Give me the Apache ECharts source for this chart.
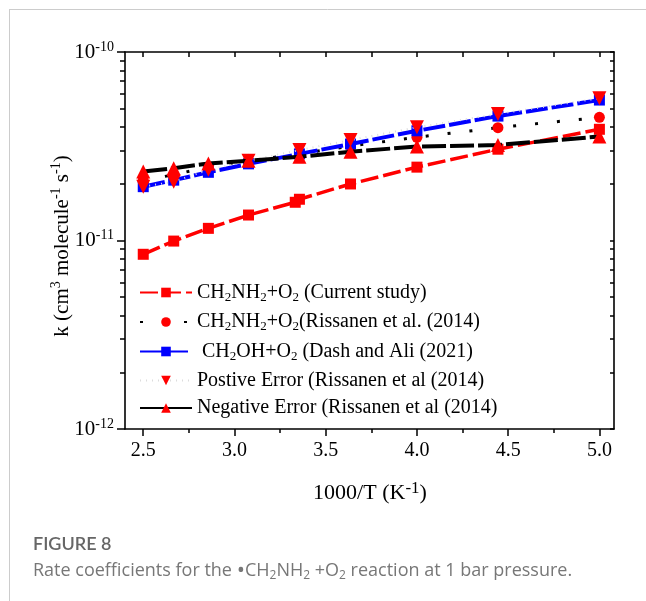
<!DOCTYPE html>
<html>
<head>
<meta charset="utf-8">
<script src="https://cdn.jsdelivr.net/npm/echarts@6/dist/echarts.min.js"></script>
<style>html,body{margin:0;padding:0;background:#fff;}#c{width:646px;height:601px;}</style>
</head>
<body>
<div id="c"></div>
<script>
// ---- data (1000/T in K^-1, k in cm^3 molecule^-1 s^-1) ----
const xCurrent = [2.5, 2.667, 2.857, 3.077, 3.333, 3.356, 3.636, 4.0, 4.444, 5.0];
const kCurrent = [8.45e-12, 9.93e-12, 1.16e-11, 1.365e-11, 1.595e-11, 1.655e-11, 1.995e-11, 2.45e-11, 3.05e-11, 3.89e-11];
const xOther = [2.5, 2.667, 2.857, 3.077, 3.356, 3.636, 4.0, 4.444, 5.0];
const kRissanen = [2.09e-11, 2.23e-11, 2.46e-11, 2.65e-11, 2.88e-11, 3.17e-11, 3.53e-11, 3.97e-11, 4.50e-11];
const kDash = [1.93e-11, 2.09e-11, 2.30e-11, 2.55e-11, 2.88e-11, 3.25e-11, 3.82e-11, 4.57e-11, 5.56e-11];
const kPosErr = [1.93e-11, 2.05e-11, 2.37e-11, 2.65e-11, 3.02e-11, 3.41e-11, 3.99e-11, 4.69e-11, 5.68e-11];
const kNegErr = [2.32e-11, 2.42e-11, 2.56e-11, 2.65e-11, 2.78e-11, 2.96e-11, 3.15e-11, 3.21e-11, 3.56e-11];

const seriesNames = ['current', 'rissanen', 'dash', 'pos', 'neg'];
const legendLabels = [
  '{t|CH}{s|2}{t|NH}{s|2}{t|+O}{s|2}{t| (Current study)}',
  '{t|CH}{s|2}{t|NH}{s|2}{t|+O}{s|2}{t|(Rissanen et al. (2014)}',
  '{t| CH}{s|2}{t|OH+O}{s|2}{t| (Dash and Ali (2021)}',
  '{t|Postive Error (Rissanen et al (2014)}',
  '{t|Negative Error (Rissanen et al (2014)}'
];
const xMajorTicks = [2.5, 3.0, 3.5, 4.0, 4.5, 5.0];
const xMinorTicks = [2.75, 3.25, 3.75, 4.25, 4.75];
const yDecades = [-12, -11, -10];
const yMinorMult = [2, 3, 4, 5, 6, 7, 8, 9];

const SERIF = '"Liberation Serif", "Times New Roman", serif';
const SANS = 'Lato, "Open Sans", "Noto Sans", sans-serif';
const SANS2 = '"Open Sans", Lato, "Noto Sans", sans-serif';

function pairs(xs, ys) { return xs.map((x, i) => [x, ys[i]]); }

const yMinorLog = [];
for (let d = -12; d < -10; d++) yMinorMult.forEach(m => yMinorLog.push(d + Math.log10(m)));
const yAllLog = yDecades.concat(yMinorLog);

const chart = echarts.init(document.getElementById('c'), null, {renderer: 'canvas'});
const gridRect = {left: 125, right: 32, top: 52, bottom: 172};
const X_MIN = 2.4, X_MAX = 5.08;

const option = {
  backgroundColor: '#fff',
  animation: false,
  grid: [Object.assign({}, gridRect), Object.assign({}, gridRect)],
  legend: {
    orient: 'vertical',
    left: 134,
    top: 277,
    itemWidth: 52,
    itemHeight: 12,
    itemGap: 7.5,
    data: seriesNames,
    formatter: name => legendLabels[seriesNames.indexOf(name)],
    textStyle: {
      fontFamily: SERIF,
      rich: {
        t: {fontSize: 20, fontFamily: SERIF, color: '#000', lineHeight: 23},
        s: {fontSize: 13, fontFamily: SERIF, color: '#000', verticalAlign: 'bottom', lineHeight: 13, padding: [9, 0, 0, 0]}
      }
    }
  },
  xAxis: [
    { // main bottom
      type: 'value', gridIndex: 0, position: 'bottom', min: X_MIN, max: X_MAX,
      axisLine: {show: true, lineStyle: {color: '#000', width: 1.6}},
      axisTick: {show: true, customValues: xMajorTicks, inside: false, length: 7, lineStyle: {color: '#000', width: 1.5}},
      axisLabel: {show: true, customValues: xMajorTicks, formatter: v => v.toFixed(1), margin: 12,
        fontFamily: SERIF, fontSize: 20, color: '#000'},
      splitLine: {show: false}
    },
    { // top frame
      type: 'value', gridIndex: 0, position: 'top', min: X_MIN, max: X_MAX,
      axisLine: {show: true, lineStyle: {color: '#000', width: 1.6}},
      axisTick: {show: true, customValues: xMajorTicks.concat(xMinorTicks), inside: true, length: 5, lineStyle: {color: '#000', width: 1.5}},
      axisLabel: {show: false},
      splitLine: {show: false}
    },
    { // minor bottom ticks
      type: 'value', gridIndex: 1, position: 'bottom', min: X_MIN, max: X_MAX,
      axisLine: {show: false},
      axisTick: {show: true, customValues: xMinorTicks, inside: false, length: 4, lineStyle: {color: '#000', width: 1.5}},
      axisLabel: {show: false},
      splitLine: {show: false}
    }
  ],
  yAxis: [
    { // main log axis
      type: 'log', logBase: 10, gridIndex: 0, position: 'left', min: 1e-12, max: 1e-10,
      axisLine: {show: true, lineStyle: {color: '#000', width: 1.6}},
      axisTick: {show: true, inside: false, length: 8, lineStyle: {color: '#000', width: 1.5}},
      axisLabel: {show: true, margin: 11,
        formatter: v => '{b|10}{s|' + Math.round(Math.log10(v)) + '}',
        rich: {
          b: {fontSize: 21, fontFamily: SERIF, color: '#000', lineHeight: 24},
          s: {fontSize: 14, fontFamily: SERIF, color: '#000', verticalAlign: 'top', lineHeight: 14, padding: [0, 0, 8, 0]}
        }},
      splitLine: {show: false}
    },
    { // right frame
      type: 'value', gridIndex: 0, position: 'right', min: -12, max: -10,
      axisLine: {show: true, lineStyle: {color: '#000', width: 1.6}},
      axisTick: {show: true, customValues: yAllLog, inside: true, length: 4, lineStyle: {color: '#000', width: 1.5}},
      axisLabel: {show: false},
      splitLine: {show: false}
    },
    { // minor left ticks
      type: 'value', gridIndex: 1, position: 'left', min: -12, max: -10,
      axisLine: {show: false},
      axisTick: {show: true, customValues: yMinorLog, inside: false, length: 5, lineStyle: {color: '#000', width: 1.5}},
      axisLabel: {show: false},
      splitLine: {show: false}
    }
  ],
  series: [
    {
      name: 'current', type: 'line', xAxisIndex: 0, yAxisIndex: 0,
      data: pairs(xCurrent, kCurrent),
      symbol: 'rect', symbolSize: 11,
      lineStyle: {color: '#ff0000', width: 3.5, type: [18, 5]},
      itemStyle: {color: '#ff0000'}, z: 2
    },
    {
      name: 'rissanen', type: 'line', xAxisIndex: 0, yAxisIndex: 0,
      data: pairs(xOther, kRissanen),
      symbol: 'circle', symbolSize: 11,
      lineStyle: {color: '#000', width: 3, type: [3, 19]},
      itemStyle: {color: '#ff0000'}, z: 3
    },
    {
      name: 'dash', type: 'line', xAxisIndex: 0, yAxisIndex: 0,
      data: pairs(xOther, kDash),
      symbol: 'rect', symbolSize: 11,
      lineStyle: {color: '#0000ff', width: 4, type: [22, 4]},
      itemStyle: {color: '#0000ff'}, z: 4
    },
    {
      name: 'pos', type: 'line', xAxisIndex: 0, yAxisIndex: 0,
      data: pairs(xOther, kPosErr),
      symbol: 'triangle', symbolRotate: 180, symbolSize: 14,
      lineStyle: {color: '#dcdcdc', width: 2, type: [1, 5]},
      itemStyle: {color: '#ff0000'}, z: 5
    },
    {
      name: 'neg', type: 'line', xAxisIndex: 0, yAxisIndex: 0,
      data: pairs(xOther, kNegErr),
      symbol: 'triangle', symbolSize: 14,
      lineStyle: {color: '#000', width: 4, type: [24, 4]},
      itemStyle: {color: '#ff0000'}, z: 6
    }
  ],
  graphic: [
    {type: 'line', shape: {x1: 9, y1: 9.5, x2: 646, y2: 9.5}, style: {stroke: '#cccccc', lineWidth: 1}},
    {type: 'line', shape: {x1: 9.5, y1: 9, x2: 9.5, y2: 601}, style: {stroke: '#cccccc', lineWidth: 1}},
    {type: 'text', x: 62, y: 246, rotation: Math.PI / 2,
      style: {text: '{t|k (cm}{p|3}{t| molecule}{p|-1}{t| s}{p|-1}{t|)}', align: 'center', verticalAlign: 'middle',
        rich: {
          t: {fontSize: 21, fontFamily: SERIF, fill: '#000', lineHeight: 25},
          p: {fontSize: 14, fontFamily: SERIF, fill: '#000', verticalAlign: 'top', lineHeight: 14, padding: [0, 0, 8, 0]}
        }}},
    {type: 'text', x: 370, y: 493,
      style: {text: '{t|1000/T (K}{p|-1}{t|)}', align: 'center', verticalAlign: 'middle',
        rich: {
          t: {fontSize: 22, fontFamily: SERIF, fill: '#000', lineHeight: 26},
          p: {fontSize: 17, fontFamily: SERIF, fill: '#000', verticalAlign: 'top', lineHeight: 17, padding: [0, 0, 8, 0]}
        }}},
    {type: 'text', x: 33, y: 535,
      style: {text: 'FIGURE 8', font: '600 18px ' + SANS, fill: '#666666'}},
    {type: 'text', x: 33, y: 560,
      style: {text: '{n|Rate coefficients for the }{d|•}{n|CH}{s|2}{n|NH}{s|2}{n| +O}{s|2}{n| reaction at 1 bar pressure.}',
        rich: {
          n: {fontSize: 18, fontFamily: SANS2, fill: '#777777', lineHeight: 22},
          s: {fontSize: 12, fontFamily: SANS2, fill: '#777777', verticalAlign: 'bottom', lineHeight: 12, padding: [6, 0, 0, 0]},
          d: {fontSize: 22, fontFamily: SANS2, fill: '#777777', verticalAlign: 'top', lineHeight: 12, padding: [0, 0, 14, 0]}
        }}}
  ]
};
chart.setOption(option);
</script>
</body>
</html>
